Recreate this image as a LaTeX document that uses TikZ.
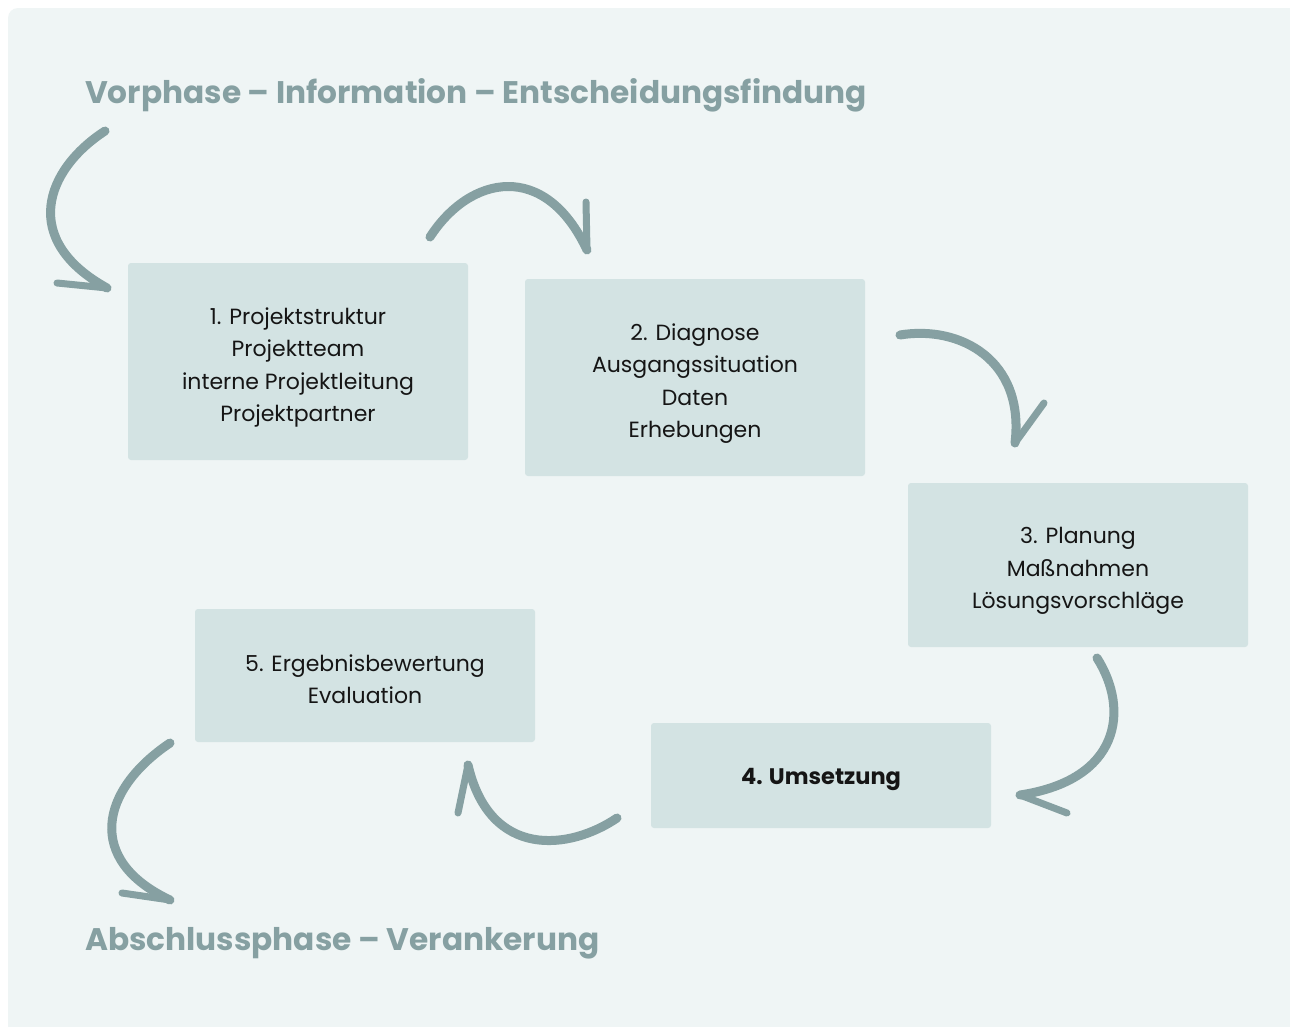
\documentclass[tikz,border=0pt]{standalone}
\usepackage{fontspec}
\setmainfont{Poppins}
\usepackage{tikz}
\usetikzlibrary{calc}
\definecolor{bgcol}{HTML}{EFF5F5}
\definecolor{boxcol}{HTML}{D3E3E3}
\definecolor{arrowcol}{HTML}{86A0A2}
\definecolor{textcol}{HTML}{151515}
\tikzset{
  schritt/.style={
    fill=boxcol,
    rounded corners=3pt,
    minimum width=340pt
  },
  schrift/.style={
    align=center,
    text=textcol,
    font=\fontsize{22}{32.3}\selectfont
  },
  phase/.style={
    anchor=base west,
    text=arrowcol,
    inner sep=0pt,
    font=\fontsize{31.2}{36}\selectfont\bfseries
  },
  pfeil/.style={
    draw=arrowcol,
    line width=9pt,
    line cap=round
  },
  spitze/.style={
    draw=arrowcol,
    line width=7pt,
    line cap=round
  }
}
\begin{document}
\begin{tikzpicture}[x=1pt, y=-1pt]
    \useasboundingbox (0,0) rectangle (1290,1026);
    \fill[white] (0,0) rectangle (1290,1026);
    \begin{scope}
      \clip (0,0) rectangle (1290,1026);
      \fill[bgcol, rounded corners=10pt] (8,8) rectangle (1310,1046);
    \end{scope}

    % phases
    \node[phase] (vorphase) at (85,103) {Vorphase – Information – Entscheidungsfindung};
    \node[phase] (abschluss) at (85,950) {Abschlussphase – Verankerung};

    % steps
    \node[schritt, minimum height=197pt] (s1) at (298,361.5) {};
    \node[schritt, minimum height=197pt] (s2) at (695,377.5) {};
    \node[schritt, minimum height=164pt] (s3) at (1078,565) {};
    \node[schritt, minimum height=105pt] (s4) at (821,775.5) {};
    \node[schritt, minimum height=133pt] (s5) at (365,675.5) {};

    \node[schrift] (s1text) at ([yshift=-6pt]s1.center)
      {1. Projektstruktur\\Projektteam\\interne Projektleitung\\Projektpartner};
    \node[schrift] (s2text) at ([yshift=-6pt]s2.center)
      {2. Diagnose\\Ausgangssituation\\Daten\\Erhebungen};
    \node[schrift] (s3text) at ([yshift=-6pt]s3.center)
      {3. Planung\\Maßnahmen\\Lösungsvorschläge};
    \node[schrift, font=\fontsize{22.5}{32.3}\selectfont\bfseries] (s4text) at ([yshift=-4pt]s4.center)
      {4. Umsetzung};
    \node[schrift] (s5text) at ([yshift=-4pt]s5.center)
      {5. Ergebnisbewertung\\Evaluation};

    % arrow tips
    \coordinate (t1) at (107,288);
    \coordinate (t2) at (587,250);
    \coordinate (t3) at (1015,443);
    \coordinate (t4) at (1020,795);
    \coordinate (t5) at (468,765);
    \coordinate (t6) at (170,900);

    \draw[pfeil] (105,131) .. controls (45,170) and (20,240) .. (t1);
    \draw[spitze] (t1) -- (57,283);
    \draw[pfeil] (430,237) .. controls (470,175) and (545,160) .. (t2);
    \draw[spitze] (t2) -- (586,202);
    \draw[pfeil] (900,335) .. controls (960,325) and (1025,360) .. (t3);
    \draw[spitze] (t3) -- (1044,403);
    \draw[pfeil] (1097,658) .. controls (1130,710) and (1120,780) .. (t4);
    \draw[spitze] (t4) -- (1067,813);
    \draw[pfeil] (617,818) .. controls (570,850) and (490,860) .. (t5);
    \draw[spitze] (t5) -- (458,813);
    \draw[pfeil] (170,743) .. controls (100,790) and (85,860) .. (t6);
    \draw[spitze] (t6) -- (122,893);
\end{tikzpicture}
\end{document}
